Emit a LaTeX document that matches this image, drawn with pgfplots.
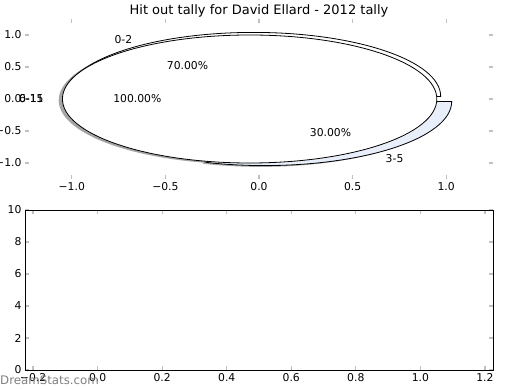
\documentclass[border=0pt]{standalone}
\usepackage{fontspec}
\setmainfont{DejaVu Sans}
\usepackage{pgfplots}
\usepackage{pgfplotstable}
\pgfplotsset{compat=1.18}
\definecolor{wedgeblue}{RGB}{232,238,250}
\definecolor{tickgray}{RGB}{192,192,192}
\definecolor{markgray}{RGB}{128,128,128}

% pie data: share (percent) and explode of each wedge
\def\valA{70}   % 0-2
\def\valB{30}   % 3-5
\def\valC{100}  % whole tally
\def\expl{0.05}

\begin{document}
\begin{tikzpicture}[x=1pt,y=1pt]
\useasboundingbox (0,0) rectangle (520,390);

\pgfmathsetmacro{\aEnd}{3.6*\valA}
\pgfmathsetmacro{\aMid}{\aEnd/2}
\pgfmathsetmacro{\bMid}{(\aEnd+3.6*\valC)/2}
\pgfmathsetmacro{\cMid}{3.6*\valC/2}
\pgfmathsetmacro{\axo}{\expl*cos(\aMid)}
\pgfmathsetmacro{\ayo}{\expl*sin(\aMid)}
\pgfmathsetmacro{\bxo}{\expl*cos(\bMid)}
\pgfmathsetmacro{\byo}{\expl*sin(\bMid)}
\pgfmathsetmacro{\cxo}{\expl*cos(\cMid)}
\pgfmathsetmacro{\cyo}{\expl*sin(\cMid)}

\begin{axis}[
  at={(25pt,211pt)}, anchor=south west,
  width=468pt, height=160pt, scale only axis,
  xmin=-1.25, xmax=1.25, ymin=-1.25, ymax=1.25,
  disabledatascaling, clip=false,
  axis line style={draw=none},
  xtick={-1,-0.5,0,0.5,1}, xticklabels={−1.0,−0.5,0.0,0.5,1.0},
  ytick={-1,-0.5,0,0.5,1}, yticklabels={−1.0,−0.5,0.0,0.5,1.0},
  tick align=inside, major tick length=4pt,
  tick style={tickgray, line width=1.2pt},
  ticklabel style={font=\fontsize{10.8}{13}\selectfont},
]
% shadows
\fill[black!70, opacity=0.5] (axis cs:{\axo-0.02},{\ayo-0.02}) -- (axis cs:{\axo-0.02+1},{\ayo-0.02}) arc[start angle=0, end angle=\aEnd, x radius=1, y radius=1] -- cycle;
\fill[black!70, opacity=0.5] (axis cs:{\bxo-0.02},{\byo-0.02}) -- (axis cs:{\bxo-0.02+cos(\aEnd)},{\byo-0.02+sin(\aEnd)}) arc[start angle=\aEnd, end angle=360, x radius=1, y radius=1] -- cycle;
\fill[black!70, opacity=0.5] (axis cs:{\cxo-0.02},{\cyo-0.02}) ellipse[x radius=1, y radius=1];
% wedges
\filldraw[fill=white, draw=black, line width=0.8pt] (axis cs:\axo,\ayo) -- (axis cs:{\axo+1},\ayo) arc[start angle=0, end angle=\aEnd, x radius=1, y radius=1] -- cycle;
\filldraw[fill=wedgeblue, draw=black, line width=0.8pt] (axis cs:\bxo,\byo) -- (axis cs:{\bxo+cos(\aEnd)},{\byo+sin(\aEnd)}) arc[start angle=\aEnd, end angle=360, x radius=1, y radius=1] -- cycle;
\filldraw[fill=white, draw=black, line width=0.8pt] (axis cs:\cxo,\cyo) ellipse[x radius=1, y radius=1];
% labels
\begin{scope}[every node/.style={font=\fontsize{10.8}{13}\selectfont, inner sep=0pt}]
\node[anchor=east] at (axis cs:{\axo+1.1*cos(\aMid)},{\ayo+1.1*sin(\aMid)}) {0-2};
\node at (axis cs:{\axo+0.6*cos(\aMid)},{\ayo+0.6*sin(\aMid)}) {70.00\%};
\node[anchor=west] at (axis cs:{\bxo+1.1*cos(\bMid)},{\byo+1.1*sin(\bMid)}) {3-5};
\node at (axis cs:{\bxo+0.6*cos(\bMid)},{\byo+0.6*sin(\bMid)}) {30.00\%};
\node at (axis cs:{\cxo+0.6*cos(\cMid)},{\cyo+0.6*sin(\cMid)}) {100.00\%};
\node[anchor=east] at (axis cs:{\cxo+1.1*cos(\cMid)},{\cyo+1.1*sin(\cMid)}) {6-11};
\node[anchor=east] at (axis cs:{\cxo+1.1*cos(\cMid)},{\cyo+1.1*sin(\cMid)}) {0-15};
\end{scope}
\node[anchor=base, inner sep=0pt, font=\fontsize{13}{15}\selectfont] at ([yshift=4.3pt]rel axis cs:0.5,1) {Hit out tally for David Ellard - 2012 tally};
\end{axis}

\begin{axis}[
  at={(25pt,20pt)}, anchor=south west,
  width=468pt, height=160pt, scale only axis,
  xmin=-0.225, xmax=1.225, ymin=0, ymax=10,
  axis line style={black, line width=0.8pt},
  xtick={-0.2,0,0.2,0.4,0.6,0.8,1.0,1.2},
  xticklabels={−0.2,0.0,0.2,0.4,0.6,0.8,1.0,1.2},
  ytick={0,2,4,6,8,10}, yticklabels={0,2,4,6,8,10},
  tick align=inside, major tick length=4pt,
  tick style={tickgray, line width=1.2pt},
  ticklabel style={font=\fontsize{10.8}{13}\selectfont},
]
\addplot[draw=none] coordinates {(0,0)};
\end{axis}

\node[anchor=west, inner sep=0pt, text=markgray, font=\fontsize{11.8}{14}\selectfont] at (0,10) {DreamStats.com};
\end{tikzpicture}
\end{document}
